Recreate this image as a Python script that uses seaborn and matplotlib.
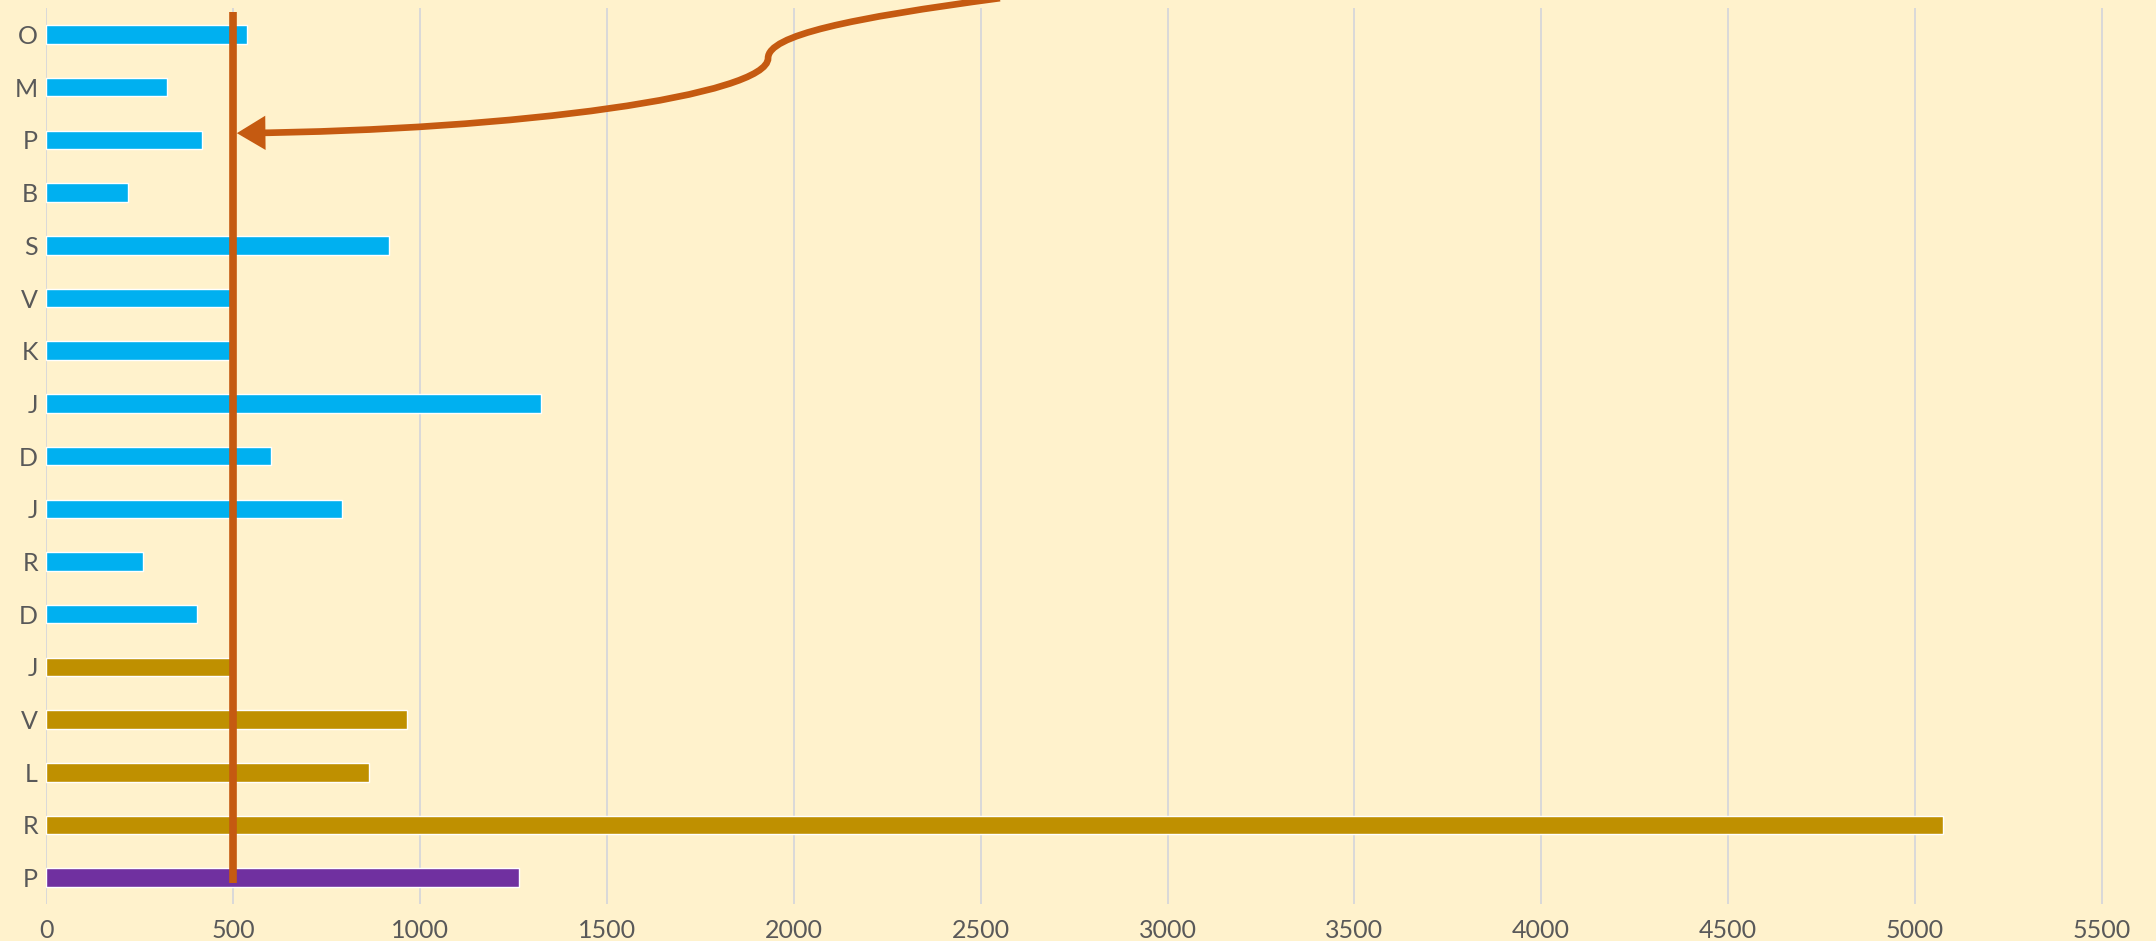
import numpy as np
import pandas as pd
import seaborn as sns
import matplotlib.pyplot as plt
from matplotlib.path import Path
from matplotlib.patches import FancyArrowPatch

# bar data, top to bottom
labels = ["O", "M", "P", "B", "S", "V", "K", "J", "D", "J", "R", "D", "J", "V", "L", "R", "P"]
values = [536, 322, 416, 218, 918, 497, 495, 1324, 600, 790, 258, 402, 495, 964, 862, 5074, 1266]
groups = ["a"] * 12 + ["b"] * 4 + ["c"]
THRESHOLD = 500
xticks = np.arange(0, 5501, 500)

palette = {"a": "#00B0F0", "b": "#BF9000", "c": "#7030A0"}
BG = "#FFF2CC"
ORANGE = "#C55A11"

df = pd.DataFrame({
    "key": [f"{l}_{i}" for i, l in enumerate(labels)],
    "value": values,
    "group": groups,
})

sns.set_theme(style="white")
plt.rcParams["font.family"] = ["Lato", "DejaVu Sans"]

fig = plt.figure(figsize=(21.56, 9.41), dpi=100, facecolor=BG)
ax = fig.add_axes([0.0215, 0.0393, 0.9785, 0.952])
ax.set_facecolor(BG)

sns.barplot(data=df, x="value", y="key", hue="group", palette=palette,
            dodge=False, legend=False, width=0.35, orient="h", ax=ax,
            saturation=1, zorder=3)

n = len(labels)
ax.set_ylim(n - 0.5, -0.5)
ax.set_xlim(0, 5645)
ax.set_xticks(xticks)
ax.set_yticks(range(n))
ax.set_yticklabels(labels)
ax.set_xlabel("")
ax.set_ylabel("")

ax.grid(axis="x", color="#D9D9D9", linewidth=1.4, zorder=0)
ax.grid(axis="y", visible=False)
for s in ax.spines.values():
    s.set_visible(False)
ax.tick_params(axis="both", length=0, labelsize=18, labelcolor="#595959")
ax.tick_params(axis="x", pad=11)
ax.tick_params(axis="y", pad=6)

# threshold line
ax.vlines(THRESHOLD, ymin=-0.42, ymax=n - 0.9, color=ORANGE, linewidth=5.5, zorder=4)

# curved arrow pointing at the threshold line (axes fraction coords)
verts = [(0.4520, 1.0112), (0.3809, 0.9888), (0.3421, 0.9699), (0.3421, 0.9442),
         (0.3421, 0.9029), (0.2245, 0.8638), (0.0903, 0.8605)]
codes = [Path.MOVETO, Path.CURVE4, Path.CURVE4, Path.CURVE4,
         Path.CURVE4, Path.CURVE4, Path.CURVE4]
arrow = FancyArrowPatch(path=Path(verts, codes), transform=ax.transAxes,
                        arrowstyle="-|>,head_length=0.45,head_width=0.27",
                        mutation_scale=30, color=ORANGE, linewidth=4.8,
                        joinstyle="miter", capstyle="butt",
                        clip_on=False, zorder=5)
ax.add_patch(arrow)

fig.savefig("out.png", dpi=100, facecolor=BG)
